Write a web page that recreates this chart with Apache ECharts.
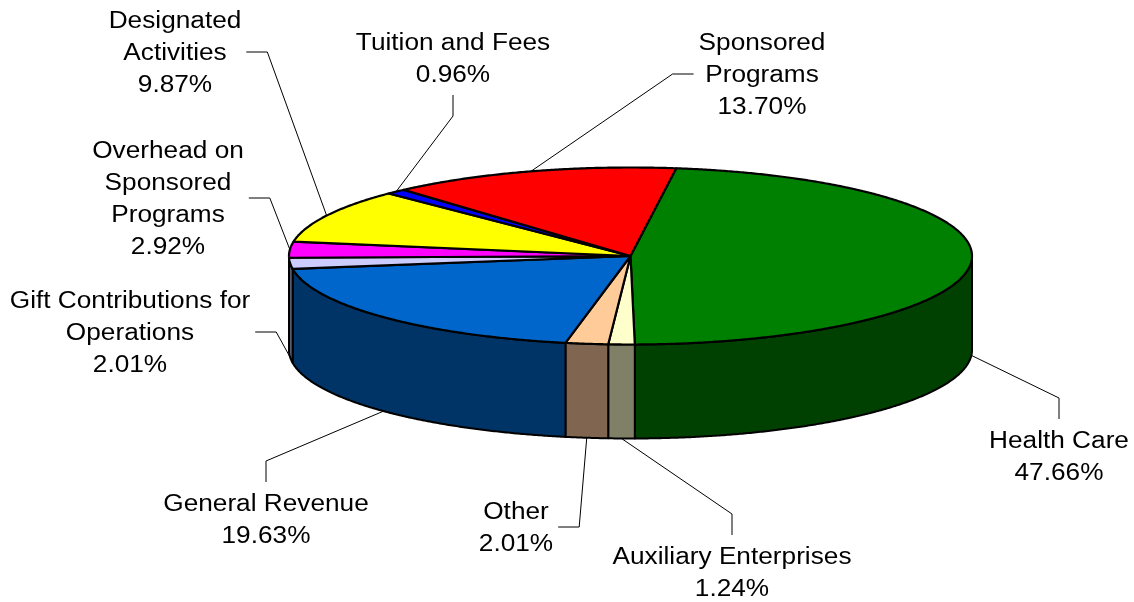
<!DOCTYPE html>
<html>
<head>
<meta charset="utf-8">
<script src="https://cdn.jsdelivr.net/npm/echarts@6/dist/echarts.min.js"></script>
<style>
html, body { margin: 0; padding: 0; background: #fff; }
#main { width: 1134px; height: 602px; }
</style>
</head>
<body>
<div id="main"></div>
<script>
var names = ['Health Care', 'Auxiliary Enterprises', 'Other', 'General Revenue',
  'Gift Contributions for Operations', 'Overhead on Sponsored Programs',
  'Designated Activities', 'Tuition and Fees', 'Sponsored Programs'];
var labelLines = [['Health Care'], ['Auxiliary Enterprises'], ['Other'], ['General Revenue'],
  ['Gift Contributions for', 'Operations'], ['Overhead on', 'Sponsored', 'Programs'],
  ['Designated', 'Activities'], ['Tuition and Fees'], ['Sponsored', 'Programs']];
var shares = [47.66, 1.24, 2.01, 19.63, 2.01, 2.92, 9.87, 0.96, 13.70];

var topColors = ['#008000', '#ffffcc', '#ffcc99', '#0066cc', '#ccccff', '#ff00ff', '#ffff00', '#0000ff', '#ff0000'];
var sideColors = ['#004000', '#808066', '#806650', '#003366', '#666680', '#800080', '#808000', '#000080', '#800000'];

// label layout: centre of each text block, and which side of it the leader joins
var labelPos = [[1059, 456], [732, 572], [516, 527], [266, 519], [130, 332], [168, 198], [175, 52], [453, 58], [762, 74]];
var labelJoin = ['top', 'top', 'right', 'top', 'right', 'right', 'right', 'bottom', 'left'];

// pie geometry
var CX = 630.5, CY = 256, RX = 341.5, RY = 88.5, DEPTH = 94, START = 82.3;
var FONT = 23, LINE_H = 32, STRETCH = 1.14;
var FRONT = [START / 3.6, (START + 180) / 3.6]; // percent range of the front rim

var cum = 0;
var sliceData = shares.map(function (v) {
  var d = [cum, cum + v];
  cum += v;
  return d;
});

var measure = document.createElement('canvas').getContext('2d');
measure.font = FONT + 'px "Liberation Sans"';
function blockWidth(lines) {
  var w = 0;
  lines.forEach(function (s) { w = Math.max(w, measure.measureText(s).width); });
  return w * STRETCH;
}

function renderItem(params, api) {
  var i = params.dataIndex;
  var p0 = api.value(0), p1 = api.value(1);
  var cs = params.coordSys;
  var k = RY / RX;
  function pt(p, drop) {
    var c = api.coord([1, p]);
    return [c[0], cs.cy + (c[1] - cs.cy) * k + (drop || 0)];
  }
  function arc(a, b, drop) {
    var out = [], n = Math.max(2, Math.ceil(Math.abs(b - a) / 0.1));
    for (var j = 0; j <= n; j++) out.push(pt(a + (b - a) * j / n, drop));
    return out;
  }
  var children = [];

  // outer wall, only the front half shows
  var lo = Math.max(p0, FRONT[0]), hi = Math.min(p1, FRONT[1]);
  if (hi > lo) {
    children.push({
      type: 'polygon', z2: 1,
      shape: { points: arc(lo, hi, 0).concat(arc(hi, lo, DEPTH)) },
      style: { fill: sideColors[i], stroke: '#000', lineWidth: 2, lineJoin: 'round' }
    });
  }
  // top face
  children.push({
    type: 'polygon', z2: 5,
    shape: { points: [[cs.cx, cs.cy]].concat(arc(p0, p1, 0)) },
    style: { fill: topColors[i], stroke: '#000', lineWidth: 2.2, lineJoin: 'round' }
  });

  // leader line + label
  var mid = (p0 + p1) / 2;
  var onFront = mid > FRONT[0] && mid < FRONT[1];
  var anchor = pt(mid, onFront ? DEPTH : 0);
  var lines = labelLines[i];
  var pct = shares[i].toFixed(2) + '%';
  var allLines = lines.concat([pct]);
  var lx = labelPos[i][0], ly = labelPos[i][1];
  var hw = blockWidth(allLines) / 2, hh = allLines.length * LINE_H / 2;
  var end, elbow;
  switch (labelJoin[i]) {
    case 'top': end = [lx, ly - hh - 5]; elbow = [lx, end[1] - 21]; break;
    case 'bottom': end = [lx, ly + hh + 5]; elbow = [lx, end[1] + 21]; break;
    case 'right': end = [lx + hw + 5, ly]; elbow = [end[0] + 21, ly]; break;
    default: end = [lx - hw - 5, ly]; elbow = [end[0] - 21, ly];
  }
  children.push({
    type: 'polyline', z2: 20,
    shape: { points: [anchor, elbow, end] },
    style: { fill: null, stroke: '#000', lineWidth: 1 }
  });
  children.push({
    type: 'text', z2: 20,
    x: lx, y: ly + 2, scaleX: STRETCH,
    style: {
      text: allLines.join('\n'),
      x: 0, y: 0,
      align: 'center', verticalAlign: 'middle',
      fontSize: FONT, lineHeight: LINE_H,
      fontFamily: '"Liberation Sans", Arial, sans-serif',
      fill: '#000'
    }
  });
  return { type: 'group', children: children };
}

var chart = echarts.init(document.getElementById('main'));
chart.setOption({
  animation: false,
  backgroundColor: '#fff',
  polar: { center: [CX, CY], radius: RX },
  angleAxis: { type: 'value', min: 0, max: 100, startAngle: START, clockwise: true, show: false },
  radiusAxis: { type: 'value', min: 0, max: 1, show: false },
  series: [{
    type: 'custom',
    coordinateSystem: 'polar',
    clip: false,
    silent: true,
    renderItem: renderItem,
    data: sliceData.map(function (d, i) { return { name: names[i], value: d }; })
  }]
});
</script>
</body>
</html>
